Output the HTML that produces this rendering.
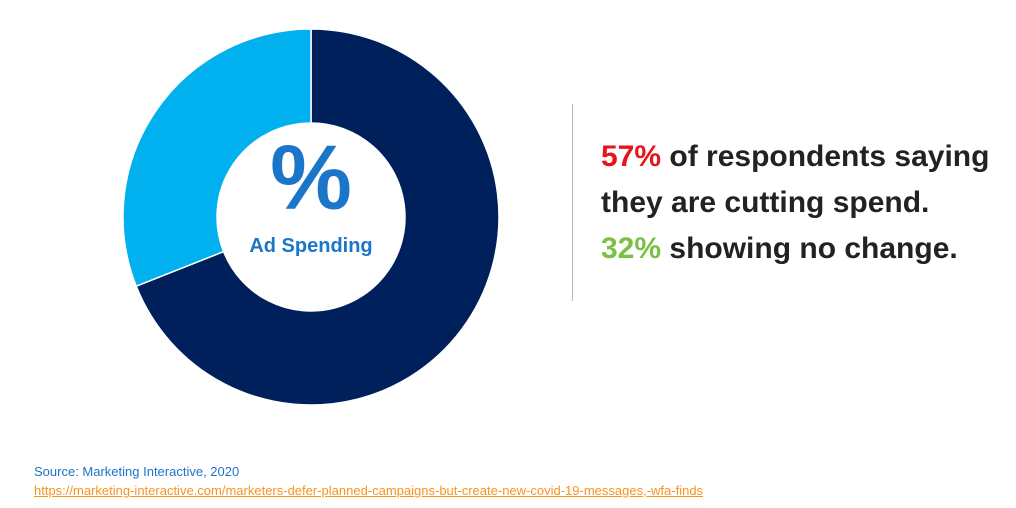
<!DOCTYPE html>
<html><head><meta charset="utf-8"><style>
body{margin:0;width:1016px;height:508px;background:#fff;font-family:"Liberation Sans",sans-serif;position:relative;overflow:hidden}
.t{position:absolute;white-space:nowrap}
</style></head><body>
<svg id="chart" width="1016" height="508" style="position:absolute;left:0;top:0"></svg>
<div class="t" style="left:261px;top:128px;width:100px;text-align:center;font-size:92px;font-weight:bold;color:#1b75c9;line-height:100px">%</div>
<div class="t" style="left:231px;top:235px;width:160px;text-align:center;font-size:20px;font-weight:bold;color:#1b75c9">Ad Spending</div>
<div style="position:absolute;left:572px;top:104px;width:1px;height:197px;background:#bbb"></div>
<div class="t" style="left:601px;top:134px;font-size:30px;font-weight:bold;color:#222;line-height:46px">
<span><span style="color:#e8141b">57%</span> of respondents saying</span><br>
<span>they are cutting spend.</span><br>
<span><span style="color:#7ac143">32%</span> showing no change.</span>
</div>
<div class="t" style="left:34px;top:464px;font-size:13px;color:#1b75c9">Source: Marketing Interactive, 2020</div>
<a class="t" style="left:34px;top:483px;font-size:13px;color:#f7941d;text-decoration:underline">https://marketing-interactive.com/marketers-defer-planned-campaigns-but-create-new-covid-19-messages,-wfa-finds</a>
<script>
const categories=["Cutting / other","No change"];
const values=[69,31];
const colors=["#00205b","#00b0ef"];
const svg=document.getElementById('chart');
const cx=311,cy=217,R=188,r=94;
const total=values.reduce((a,b)=>a+b,0);
function pt(a,rad){return [cx+rad*Math.sin(a),cy-rad*Math.cos(a)];}
let a0=0;
values.forEach((v,i)=>{
 const a1=a0+v/total*2*Math.PI;
 const large=(a1-a0)>Math.PI?1:0;
 const [x1,y1]=pt(a0,R),[x2,y2]=pt(a1,R),[x3,y3]=pt(a1,r),[x4,y4]=pt(a0,r);
 const p=document.createElementNS('http://www.w3.org/2000/svg','path');
 p.setAttribute('d',`M${x1},${y1}A${R},${R} 0 ${large} 1 ${x2},${y2}L${x3},${y3}A${r},${r} 0 ${large} 0 ${x4},${y4}Z`);
 p.setAttribute('fill',colors[i]);
 p.setAttribute('stroke','#fff');
 p.setAttribute('stroke-width','1.5');
 
 
 svg.appendChild(p);
 a0=a1;
});
</script>
</body></html>
